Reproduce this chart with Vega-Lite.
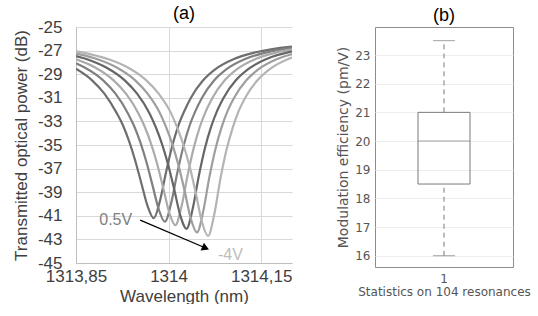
{
  "$schema": "https://vega.github.io/schema/vega-lite/v6.json",
  "background": "white",
  "padding": {"left": 12, "top": 5, "right": 0, "bottom": 0},
  "spacing": 83,
  "bounds": "flush",
  "config": {"view": {"stroke": null}, "font": "Liberation Sans"},
  "datasets": {
    "curves": [
      {"c":"s1","x":1313.85,"y":-28.54},{"c":"s1","x":1313.876,"y":-29.52},{"c":"s1","x":1313.896,"y":-30.65},{"c":"s1","x":1313.916,"y":-32.30},{"c":"s1","x":1313.926,"y":-33.33},{"c":"s1","x":1313.936,"y":-34.68},{"c":"s1","x":1313.946,"y":-36.33},{"c":"s1","x":1313.956,"y":-38.26},{"c":"s1","x":1313.966,"y":-40.18},{"c":"s1","x":1313.976,"y":-41.2},{"c":"s1","x":1313.986,"y":-39.74},{"c":"s1","x":1313.996,"y":-37.28},{"c":"s1","x":1314.006,"y":-35.07},{"c":"s1","x":1314.016,"y":-33.33},{"c":"s1","x":1314.026,"y":-32.07},{"c":"s1","x":1314.036,"y":-31.01},{"c":"s1","x":1314.056,"y":-29.52},{"c":"s1","x":1314.076,"y":-28.57},{"c":"s1","x":1314.106,"y":-27.71},{"c":"s1","x":1314.136,"y":-27.21},{"c":"s1","x":1314.166,"y":-26.89},{"c":"s1","x":1314.196,"y":-26.68},{"c":"s1","x":1314.2,"y":-26.66},
      {"c":"s2","x":1313.85,"y":-28.07},{"c":"s2","x":1313.864,"y":-28.43},{"c":"s2","x":1313.894,"y":-29.52},{"c":"s2","x":1313.914,"y":-30.65},{"c":"s2","x":1313.934,"y":-32.30},{"c":"s2","x":1313.944,"y":-33.37},{"c":"s2","x":1313.954,"y":-34.74},{"c":"s2","x":1313.964,"y":-36.42},{"c":"s2","x":1313.974,"y":-38.42},{"c":"s2","x":1313.984,"y":-40.44},{"c":"s2","x":1313.994,"y":-41.5},{"c":"s2","x":1314.004,"y":-39.97},{"c":"s2","x":1314.014,"y":-37.40},{"c":"s2","x":1314.024,"y":-35.13},{"c":"s2","x":1314.034,"y":-33.37},{"c":"s2","x":1314.044,"y":-32.07},{"c":"s2","x":1314.054,"y":-31.01},{"c":"s2","x":1314.074,"y":-29.52},{"c":"s2","x":1314.094,"y":-28.57},{"c":"s2","x":1314.124,"y":-27.71},{"c":"s2","x":1314.154,"y":-27.21},{"c":"s2","x":1314.184,"y":-26.89},{"c":"s2","x":1314.2,"y":-26.77},
      {"c":"s3","x":1313.85,"y":-27.74},{"c":"s3","x":1313.881,"y":-28.43},{"c":"s3","x":1313.911,"y":-29.52},{"c":"s3","x":1313.931,"y":-30.65},{"c":"s3","x":1313.951,"y":-32.30},{"c":"s3","x":1313.961,"y":-33.41},{"c":"s3","x":1313.971,"y":-34.80},{"c":"s3","x":1313.981,"y":-36.51},{"c":"s3","x":1313.991,"y":-38.57},{"c":"s3","x":1314.001,"y":-40.71},{"c":"s3","x":1314.011,"y":-41.8},{"c":"s3","x":1314.021,"y":-40.20},{"c":"s3","x":1314.031,"y":-37.52},{"c":"s3","x":1314.041,"y":-35.20},{"c":"s3","x":1314.051,"y":-33.41},{"c":"s3","x":1314.061,"y":-32.07},{"c":"s3","x":1314.071,"y":-31.01},{"c":"s3","x":1314.091,"y":-29.52},{"c":"s3","x":1314.111,"y":-28.57},{"c":"s3","x":1314.141,"y":-27.71},{"c":"s3","x":1314.171,"y":-27.21},{"c":"s3","x":1314.2,"y":-26.90},
      {"c":"s4","x":1313.85,"y":-27.46},{"c":"s4","x":1313.869,"y":-27.75},{"c":"s4","x":1313.899,"y":-28.43},{"c":"s4","x":1313.929,"y":-29.52},{"c":"s4","x":1313.949,"y":-30.65},{"c":"s4","x":1313.969,"y":-32.30},{"c":"s4","x":1313.979,"y":-33.45},{"c":"s4","x":1313.989,"y":-34.86},{"c":"s4","x":1313.999,"y":-36.61},{"c":"s4","x":1314.009,"y":-38.73},{"c":"s4","x":1314.019,"y":-40.97},{"c":"s4","x":1314.029,"y":-42.1},{"c":"s4","x":1314.039,"y":-40.43},{"c":"s4","x":1314.049,"y":-37.63},{"c":"s4","x":1314.059,"y":-35.26},{"c":"s4","x":1314.069,"y":-33.45},{"c":"s4","x":1314.079,"y":-32.07},{"c":"s4","x":1314.089,"y":-31.01},{"c":"s4","x":1314.109,"y":-29.52},{"c":"s4","x":1314.129,"y":-28.57},{"c":"s4","x":1314.159,"y":-27.71},{"c":"s4","x":1314.2,"y":-27.07},
      {"c":"s5","x":1313.85,"y":-27.25},{"c":"s5","x":1313.856,"y":-27.32},{"c":"s5","x":1313.886,"y":-27.75},{"c":"s5","x":1313.916,"y":-28.43},{"c":"s5","x":1313.946,"y":-29.52},{"c":"s5","x":1313.966,"y":-30.65},{"c":"s5","x":1313.986,"y":-32.30},{"c":"s5","x":1313.996,"y":-33.49},{"c":"s5","x":1314.006,"y":-34.92},{"c":"s5","x":1314.016,"y":-36.70},{"c":"s5","x":1314.026,"y":-38.88},{"c":"s5","x":1314.036,"y":-41.24},{"c":"s5","x":1314.046,"y":-42.4},{"c":"s5","x":1314.056,"y":-40.66},{"c":"s5","x":1314.066,"y":-37.75},{"c":"s5","x":1314.076,"y":-35.33},{"c":"s5","x":1314.086,"y":-33.49},{"c":"s5","x":1314.096,"y":-32.07},{"c":"s5","x":1314.106,"y":-31.01},{"c":"s5","x":1314.126,"y":-29.52},{"c":"s5","x":1314.146,"y":-28.57},{"c":"s5","x":1314.176,"y":-27.71},{"c":"s5","x":1314.2,"y":-27.29},
      {"c":"s6","x":1313.85,"y":-27.07},{"c":"s6","x":1313.874,"y":-27.32},{"c":"s6","x":1313.904,"y":-27.75},{"c":"s6","x":1313.934,"y":-28.43},{"c":"s6","x":1313.964,"y":-29.52},{"c":"s6","x":1313.984,"y":-30.65},{"c":"s6","x":1314.004,"y":-32.30},{"c":"s6","x":1314.014,"y":-33.53},{"c":"s6","x":1314.024,"y":-34.98},{"c":"s6","x":1314.034,"y":-36.79},{"c":"s6","x":1314.044,"y":-39.04},{"c":"s6","x":1314.054,"y":-41.50},{"c":"s6","x":1314.064,"y":-42.7},{"c":"s6","x":1314.074,"y":-40.89},{"c":"s6","x":1314.084,"y":-37.87},{"c":"s6","x":1314.094,"y":-35.39},{"c":"s6","x":1314.104,"y":-33.53},{"c":"s6","x":1314.114,"y":-32.07},{"c":"s6","x":1314.124,"y":-31.01},{"c":"s6","x":1314.144,"y":-29.52},{"c":"s6","x":1314.164,"y":-28.57},{"c":"s6","x":1314.194,"y":-27.71},{"c":"s6","x":1314.2,"y":-27.59}
    ],
    "arrow": [{"x":1313.954,"y":-41.36,"x2":1314.060,"y2":-43.73}],
    "labA": [{"label":"0.5V","x":1313.941,"y":-41.36}],
    "labB": [{"label":"-4V","x":1314.080,"y":-44.3}],
    "box": [{"group":"1","min":16,"q1":18.5,"median":20,"q3":21,"max":23.5}]
  },
  "hconcat": [
    {
      "width": 216,
      "height": 236,
      "title": {"text": "(a)", "fontSize": 18, "font": "Liberation Sans", "fontWeight": "normal", "color": "#000000", "offset": -5, "frame": "group"},
      "layer": [
        {
          "data": {"name": "curves"},
          "mark": {"type": "line", "strokeWidth": 2.2, "interpolate": "monotone", "clip": true},
          "encoding": {
            "x": {"field": "x", "type": "quantitative",
              "scale": {"domain": [1313.85, 1314.2], "nice": false, "zero": false},
              "axis": {"values": [1313.85, 1314, 1314.15], "tickCount": 30, "labelExpr": "replace(format(datum.value, '.2~f'), '.', ',')",
                "grid": true, "gridColor": "#d9d9d9", "domainColor": "#bfbfbf", "ticks": false, "labelOverlap": false,
                "labelFontSize": 17, "labelColor": "#404040", "labelFont": "Liberation Sans", "labelPadding": 5, "labelFlush": false,
                "title": "Wavelength (nm)", "titleFontSize": 17, "titleFontWeight": "normal", "titleColor": "#404040", "titleFont": "Liberation Sans", "titlePadding": 4}},
            "y": {"field": "y", "type": "quantitative",
              "scale": {"domain": [-45, -25], "nice": false, "zero": false},
              "axis": {"values": [-45,-43,-41,-39,-37,-35,-33,-31,-29,-27,-25], "tickCount": 30, "labelExpr": "'' + datum.value", "labelOverlap": false,
                "grid": true, "gridColor": "#d9d9d9", "domainColor": "#bfbfbf", "ticks": false,
                "labelFontSize": 17, "labelColor": "#404040", "labelFont": "Liberation Sans", "labelPadding": 14,
                "title": "Transmitted optical power (dB)", "titleFontSize": 17, "titleFontWeight": "normal", "titleColor": "#404040", "titleFont": "Liberation Sans", "titlePadding": 7}},
            "color": {"field": "c", "type": "nominal", "legend": null,
              "scale": {"domain": ["s1","s2","s3","s4","s5","s6"], "range": ["#6e6e6e","#808080","#ababab","#666666","#9e9e9e","#b4b4b4"]}}
          }
        },
        {
          "data": {"name": "arrow"},
          "mark": {"type": "rule", "color": "#000000", "strokeWidth": 1.3},
          "encoding": {
            "x": {"field": "x", "type": "quantitative"},
            "y": {"field": "y", "type": "quantitative"},
            "x2": {"field": "x2"},
            "y2": {"field": "y2"}
          }
        },
        {
          "data": {"name": "arrow"},
          "mark": {"type": "point", "shape": "triangle-right", "filled": true, "color": "#000000", "size": 70, "angle": 23, "opacity": 1},
          "encoding": {
            "x": {"field": "x2", "type": "quantitative"},
            "y": {"field": "y2", "type": "quantitative"}
          }
        },
        {
          "data": {"name": "labA"},
          "mark": {"type": "text", "align": "right", "baseline": "middle", "fontSize": 16, "font": "Liberation Sans", "color": "#808080"},
          "encoding": {
            "x": {"field": "x", "type": "quantitative"},
            "y": {"field": "y", "type": "quantitative"},
            "text": {"field": "label"}
          }
        },
        {
          "data": {"name": "labB"},
          "mark": {"type": "text", "align": "left", "baseline": "middle", "fontSize": 16, "font": "Liberation Sans", "color": "#bdbdbd"},
          "encoding": {
            "x": {"field": "x", "type": "quantitative"},
            "y": {"field": "y", "type": "quantitative"},
            "text": {"field": "label"}
          }
        }
      ]
    },
    {
      "width": 138,
      "height": 240,
      "view": {"stroke": "#8c8c8c", "strokeWidth": 1},
      "title": {"text": "(b)", "fontSize": 18, "font": "Liberation Sans", "fontWeight": "normal", "color": "#000000", "offset": 2, "frame": "group"},
      "data": {"name": "box"},
      "encoding": {
        "x": {"field": "group", "type": "nominal",
          "scale": {"type": "band", "paddingInner": 0, "paddingOuter": 0},
          "axis": {"labelAngle": 0, "ticks": false, "domain": false, "grid": false,
            "labelFont": "DejaVu Sans", "labelFontSize": 12, "labelColor": "#555555", "labelPadding": 6,
            "title": "Statistics on 104 resonances", "titleFont": "DejaVu Sans", "titleFontSize": 12, "titleFontWeight": "normal", "titleColor": "#555555", "titlePadding": 2}}
      },
      "layer": [
        {
          "mark": {"type": "rule", "color": "#7a7a7a", "strokeWidth": 1, "strokeDash": [5, 4]},
          "encoding": {
            "y": {"field": "q3", "type": "quantitative",
              "scale": {"domain": [15.606, 23.977], "nice": false, "zero": false},
              "axis": {"values": [16,17,18,19,20,21,22,23], "tickCount": 30, "labelExpr": "'' + datum.value", "labelOverlap": false, "grid": true, "gridColor": "#ededed", "domain": false, "ticks": false,
                "labelFont": "DejaVu Sans", "labelFontSize": 12, "labelColor": "#555555", "labelPadding": 5,
                "title": "Modulation efficiency (pm/V)", "titleFont": "DejaVu Sans", "titleFontSize": 14, "titleFontWeight": "normal", "titleColor": "#555555", "titlePadding": 4}},
            "y2": {"field": "max"}
          }
        },
        {
          "mark": {"type": "rule", "color": "#7a7a7a", "strokeWidth": 1, "strokeDash": [5, 4]},
          "encoding": {
            "y": {"field": "min", "type": "quantitative"},
            "y2": {"field": "q1"}
          }
        },
        {
          "mark": {"type": "bar", "width": {"band": 0.377}, "fill": "#ffffff", "fillOpacity": 0, "stroke": "#7a7a7a", "strokeWidth": 1},
          "encoding": {
            "y": {"field": "q1", "type": "quantitative"},
            "y2": {"field": "q3"}
          }
        },
        {
          "mark": {"type": "tick", "color": "#7a7a7a", "size": 52, "thickness": 1},
          "encoding": {"y": {"field": "median", "type": "quantitative"}}
        },
        {
          "mark": {"type": "tick", "color": "#7a7a7a", "size": 22, "thickness": 1},
          "encoding": {"y": {"field": "max", "type": "quantitative"}}
        },
        {
          "mark": {"type": "tick", "color": "#7a7a7a", "size": 22, "thickness": 1},
          "encoding": {"y": {"field": "min", "type": "quantitative"}}
        }
      ]
    }
  ]
}
